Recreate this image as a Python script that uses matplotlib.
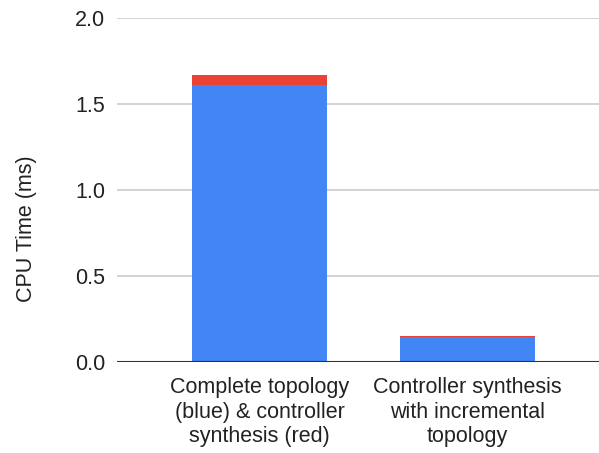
import matplotlib
matplotlib.use("Agg")
import matplotlib.pyplot as plt

plt.rcParams['font.family'] = ['Liberation Sans', 'DejaVu Sans']

categories = ["Complete topology\n(blue) & controller\nsynthesis (red)",
              "Controller synthesis\nwith incremental\ntopology"]
topology_ms = [1.61, 0.145]
synthesis_ms = [0.06, 0.008]
y_ticks = [0.0, 0.5, 1.0, 1.5, 2.0]

fig = plt.figure(figsize=(5.99, 4.53), dpi=100)
ax = fig.add_axes([117 / 599, (453 - 362) / 453, (599 - 117) / 599, (362 - 18) / 453])

x = list(range(len(categories)))
ax.bar(x, topology_ms, width=0.65, color="#4285F4", zorder=3)
ax.bar(x, synthesis_ms, width=0.65, bottom=topology_ms, color="#EA4335", zorder=3)

ax.set_xlim(-0.685, 1.632)
ax.set_ylim(0, 2.0)
ax.set_yticks(y_ticks)
ax.set_yticklabels([f"{v:.1f}" for v in y_ticks], fontsize=15.5, color="#222222")
ax.set_xticks(x)
ax.set_xticklabels(categories, fontsize=15.5, color="#222222", linespacing=1.22)

ax.grid(axis="y", color="#cccccc", linewidth=1.2, zorder=0)
ax.axhline(0, color="#333333", linewidth=1.5, zorder=4)
for s in ["top", "right", "left", "bottom"]:
    ax.spines[s].set_visible(False)
ax.tick_params(axis="y", length=0, pad=8.5)
ax.tick_params(axis="x", length=0, pad=11)

ax.set_ylabel("CPU Time (ms)", fontsize=15.5, color="#222222")
ax.yaxis.set_label_coords(-0.167, 0.387)

fig.savefig("out.png", dpi=100)
